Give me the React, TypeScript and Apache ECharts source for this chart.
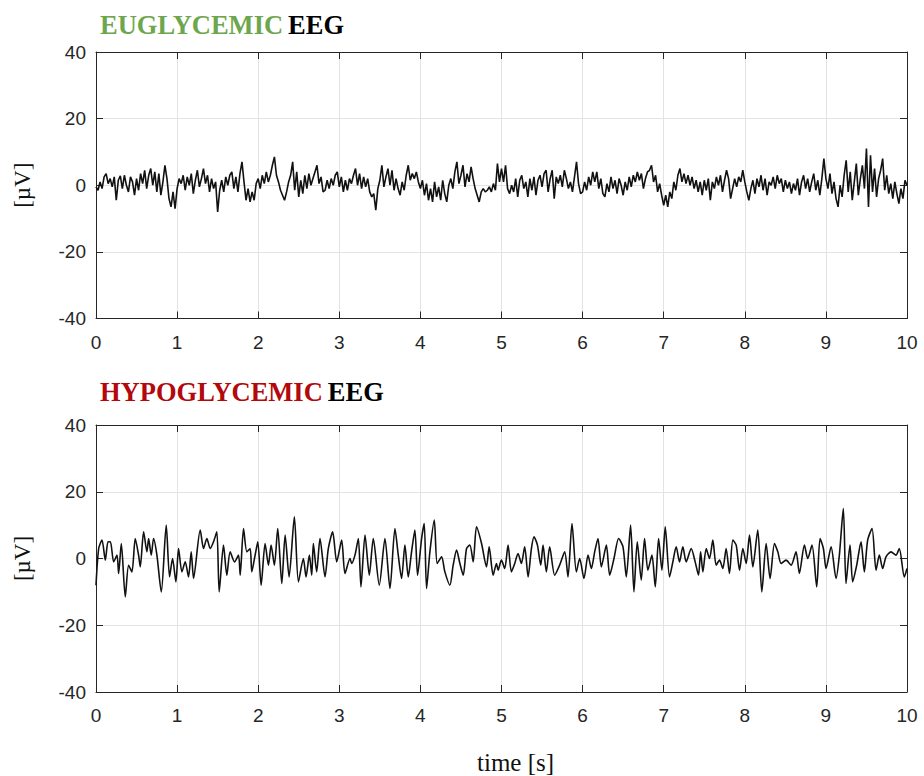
import React, { useEffect, useRef } from "react";
import * as echarts from "echarts";

// ---- data ----
const timeTicks = [0, 1, 2, 3, 4, 5, 6, 7, 8, 9, 10];
const uvTicks = [-40, -20, 0, 20, 40];

// Euglycemic EEG, one reading every 0.025 s from 0 s to 10 s (µV)
const euglycemicStep = 0.025;
const euglycemicUv = [
  -0.5, -1.5, 1.0, -1.0, 2.5, 3.5, 0.5, 2.0, -0.5, 2.5, -4.5, 1.5, 2.8, -1.0, 3.0, 0.0, -2.0, 2.5, 1.0, -3.0, 2.0, -1.5, 3.5, 0.5, 4.5, -1.0, 3.0, 5.0, 0.0, 4.0, -2.0, 3.5, -3.0, 1.0, 6.0, 2.0, -4.0, -6.5, -2.0, -7.0,
  -1.0, 2.0, 0.5, 3.0, -1.5, 2.5, 0.0, 3.5, -2.5, 1.5, 4.5, -0.5, 2.0, 5.0, 0.5, 3.0, -2.0, 2.0, -1.0, 1.0, -8.0, -1.5, 1.5, -2.0, 2.5, 0.0, 3.0, 4.0, -1.0, 2.5, -2.0, 3.5, 7.0, 1.0, -4.5, -1.0, -5.0, -2.0, -4.5, 0.5,
  2.0, -1.0, 3.0, 0.5, 4.0, 1.0, 3.0, 6.0, 8.5, 3.0, 1.0, -1.5, -3.0, -4.5, -2.0, 1.0, 3.0, 7.0, -1.5, 4.0, -3.5, 1.5, -2.5, 3.0, -1.0, 3.5, 0.0, 2.0, 4.0, 6.0, 0.5, 2.5, -2.0, -1.5, 1.5, -1.0, 2.0, 0.0, 3.0, 4.0,
  -0.5, 2.5, -2.0, 1.5, -1.5, 2.0, 0.5, 3.0, 5.0, 0.0, 3.5, -1.0, 2.5, -0.5, 2.0, -2.0, -3.5, -2.5, -7.5, -1.0, 1.5, 6.0, -0.5, 2.5, 5.0, 0.0, 4.5, -1.5, 2.0, -1.0, -3.0, 1.0, -1.5, 3.0, 6.0, 1.5, 3.5, 2.0, 4.0, 1.0,
  -1.0, 1.5, -3.0, 0.5, -4.5, -1.0, -5.0, 1.0, -3.5, -0.5, -4.5, 1.5, -2.5, -5.0, 0.0, 2.0, -1.0, 4.0, 7.0, 0.5, 3.0, 6.0, -0.5, 3.5, 1.0, 5.5, 2.0, -1.0, -3.0, -5.0, -2.0, -1.0, -2.0, -1.5, -0.5, -2.0, 0.5, -1.5, 6.5, 1.0,
  5.0, 1.0, 6.0, -1.0, -2.5, 0.0, -2.0, 2.0, -3.5, 1.5, 3.0, -1.0, 1.0, -3.5, 2.0, -1.5, 2.5, -3.0, 1.5, 3.0, -0.5, 3.5, 4.5, -2.0, 2.0, 4.5, -4.0, 2.5, 0.5, 3.0, -0.5, 4.5, 2.0, -1.0, 1.0, -2.0, 2.5, 7.0, 0.5, -2.5,
  -2.0, 1.0, -1.5, 2.5, 0.0, 4.0, 1.0, 4.0, -1.0, 2.0, -2.5, -3.5, 0.5, -2.0, 2.5, -1.0, 1.5, -2.5, 2.0, 0.0, -3.0, 1.0, -1.5, 2.5, -0.5, 3.0, 1.0, 4.0, 1.5, 3.5, -1.0, 2.0, 4.0, 4.5, 6.0, 1.0, 3.0, -2.0, 0.5, -3.0,
  -6.0, -3.0, -6.5, -2.0, -4.0, 1.0, -1.5, 3.0, 5.0, 1.0, 3.5, 0.5, 3.0, 0.0, 2.5, -1.0, 1.5, -2.0, 1.0, -3.0, 1.5, -1.5, 2.0, -4.5, 1.0, -1.0, 2.5, 0.0, 3.0, -2.0, 1.5, 4.5, 2.0, -4.0, -1.0, 2.0, -0.5, 2.5, 1.0, 4.5,
  1.0, -2.0, -4.5, -1.0, 1.5, -2.5, 2.0, -0.5, 3.0, -1.5, 2.0, -3.0, 1.0, 0.0, 2.5, -1.0, 3.0, 0.5, 2.0, -2.0, 1.5, -1.0, 1.0, -2.5, 0.5, -1.5, 2.0, -3.0, 1.0, 3.0, -1.0, 2.0, -2.0, 1.0, 3.5, -1.5, 1.5, -3.0, 2.0, 8.0,
  2.0, -1.0, 3.5, -2.5, 1.0, -4.0, -6.5, 0.0, -3.5, 3.0, 7.5, -2.0, 4.0, -4.5, 1.0, 6.5, -3.0, 2.0, 6.0, -1.0, 11.0, -6.5, 9.0, -2.0, 5.0, -3.5, 2.0, 4.5, 8.0, -1.5, 3.0, -2.5, 0.5, -4.0, 1.0, -2.5, -5.5, -1.0, -4.0, 1.5, 0.0,
];

// Hypoglycemic EEG, turning points (s, µV)
const hypoglycemicTime = [
  0.0, 0.033, 0.074, 0.115, 0.148, 0.177, 0.218, 0.259, 0.279, 0.312, 0.361, 0.402, 0.443, 0.484, 0.525, 0.546, 0.587, 0.628, 0.649, 0.681,
  0.71, 0.751, 0.805, 0.866, 0.907, 0.944, 0.985, 1.018, 1.059, 1.1, 1.141, 1.174, 1.203, 1.285, 1.326, 1.367, 1.408, 1.449, 1.49, 1.519,
  1.572, 1.613, 1.654, 1.708, 1.757, 1.778, 1.819, 1.86, 1.901, 1.921, 1.962, 1.995, 2.036, 2.085, 2.126, 2.159, 2.2, 2.241, 2.291, 2.332,
  2.381, 2.446, 2.496, 2.557, 2.59, 2.631, 2.66, 2.68, 2.721, 2.762, 2.824, 2.865, 2.918, 2.968, 3.029, 3.07, 3.132, 3.152, 3.193, 3.235,
  3.267, 3.317, 3.37, 3.419, 3.493, 3.563, 3.625, 3.686, 3.727, 3.768, 3.809, 3.85, 3.891, 3.932, 3.965, 4.015, 4.047, 4.076, 4.117, 4.171,
  4.207, 4.261, 4.302, 4.363, 4.404, 4.446, 4.487, 4.528, 4.569, 4.61, 4.651, 4.692, 4.754, 4.815, 4.848, 4.897, 4.938, 4.958, 4.999, 5.04,
  5.081, 5.122, 5.163, 5.204, 5.245, 5.286, 5.328, 5.369, 5.401, 5.443, 5.484, 5.512, 5.553, 5.594, 5.656, 5.717, 5.779, 5.82, 5.869, 5.923,
  5.964, 6.017, 6.067, 6.108, 6.149, 6.19, 6.231, 6.293, 6.334, 6.387, 6.444, 6.498, 6.539, 6.592, 6.633, 6.674, 6.723, 6.764, 6.805, 6.855,
  6.896, 6.937, 6.978, 7.019, 7.072, 7.113, 7.154, 7.195, 7.236, 7.277, 7.339, 7.388, 7.429, 7.455, 7.483, 7.524, 7.565, 7.606, 7.647, 7.688,
  7.729, 7.77, 7.811, 7.853, 7.894, 7.935, 7.976, 8.017, 8.058, 8.099, 8.16, 8.21, 8.263, 8.312, 8.366, 8.407, 8.448, 8.509, 8.571, 8.632,
  8.673, 8.735, 8.776, 8.829, 8.887, 8.928, 8.969, 9.002, 9.064, 9.125, 9.166, 9.215, 9.248, 9.297, 9.33, 9.38, 9.433, 9.474, 9.515, 9.569,
  9.618, 9.659, 9.7, 9.741, 9.803, 9.864, 9.905, 9.967, 10.0,
];
const hypoglycemicUv = [
  -8.0, 3.0, 5.5, -0.5, 5.0, 5.0, -1.0, 1.0, -4.5, 4.5, -11.5, -2.0, -4.0, 6.0, 1.0, -2.5, 8.0, 2.0, 6.0, 1.0,
  6.0, 1.0, -10.0, 10.0, -5.5, 0.0, -7.0, 3.0, -4.0, -1.0, -5.5, 2.0, -6.0, 8.5, 3.0, 6.0, 3.0, 5.0, 8.0, -10.0,
  4.0, -5.0, 2.0, -1.0, 1.0, -5.0, 9.0, 2.0, 3.0, -4.0, 1.0, 5.0, -8.0, 4.5, -2.0, 4.0, -2.0, 9.0, -7.5, 7.0,
  -5.5, 12.5, -7.0, 0.0, -5.5, 1.0, -5.0, 4.5, -4.0, 6.0, -5.5, 3.0, 8.0, -1.0, 5.5, -4.5, 0.0, -1.5, 1.0, 6.0,
  -8.5, 7.0, -5.0, 6.0, -8.0, 6.0, -9.0, 9.0, 1.0, -6.0, 4.0, -5.5, 2.0, 8.5, -5.0, 6.0, 10.5, -9.0, 2.0, 11.5,
  -1.5, 0.5, -4.0, -8.0, -2.0, 2.5, -1.5, -5.0, 3.0, 4.0, -1.0, 9.5, 4.5, -2.5, 3.5, -5.0, -1.5, -3.5, -0.5, -3.0,
  4.0, -4.0, -1.5, 1.5, -1.5, 3.5, -5.5, 3.0, 6.5, 4.0, -2.0, 4.0, -4.0, 3.5, -5.0, -2.0, 2.0, -5.5, 10.5, -4.0,
  0.0, -6.0, 1.0, -3.0, 2.0, 6.0, -2.5, 4.0, -5.0, 0.0, 6.0, 3.5, -5.5, 10.0, -10.0, 5.0, -6.5, 6.0, -3.5, 1.0,
  -8.5, 6.0, -3.5, 9.5, -5.5, -1.0, 3.5, -1.0, 3.5, -1.0, 3.0, -1.0, -5.0, 2.0, -4.0, 3.0, 0.0, 5.5, -2.0, -0.5,
  -3.0, 3.0, -4.5, 5.5, 4.0, -3.5, 3.0, -1.5, 7.0, -2.5, 8.5, -10.0, 4.5, -6.0, 4.5, 2.0, -1.5, -0.5, -2.0, 2.0,
  -4.5, 4.0, 0.0, 4.0, -8.5, 6.0, 3.0, -3.0, 3.5, -6.0, 1.0, 15.0, -7.5, 4.0, -7.0, -2.0, 5.0, -4.0, 5.5, 9.0,
  -3.5, 1.0, -3.0, 0.5, 2.0, 1.0, 3.0, -5.5, -3.0,
];

// ---- styling ----
const FRAME = "#262626";
const GRIDLINE = "#e3e3e3";
const SANS = "'Liberation Sans', Arial, sans-serif";
const SERIF = "'Liberation Serif', 'Times New Roman', serif";

function buildAxes(gridIndex: number) {
  const base = {
    gridIndex,
    type: "value" as const,
    min: timeTicks[0],
    max: timeTicks[timeTicks.length - 1],
    interval: 1,
  };
  const xBottom = {
    ...base,
    position: "bottom",
    axisLine: { show: true, onZero: false, lineStyle: { color: FRAME, width: 1 } },
    axisTick: { show: true, inside: true, length: 7, lineStyle: { color: FRAME } },
    axisLabel: { show: true, color: FRAME, fontFamily: SANS, fontSize: 19, margin: 14 },
    splitLine: { show: true, lineStyle: { color: GRIDLINE, width: 1 } },
  };
  const xTop = {
    ...base,
    position: "top",
    axisLine: { show: true, onZero: false, lineStyle: { color: FRAME, width: 1 } },
    axisTick: { show: true, inside: true, length: 7, lineStyle: { color: FRAME } },
    axisLabel: { show: false },
    splitLine: { show: false },
  };
  const ybase = {
    gridIndex,
    type: "value" as const,
    min: uvTicks[0],
    max: uvTicks[uvTicks.length - 1],
    interval: 20,
  };
  const yLeft = {
    ...ybase,
    position: "left",
    name: "[µV]",
    nameLocation: "middle",
    nameRotate: 90,
    nameGap: 62,
    nameTextStyle: { fontFamily: SERIF, fontSize: 23, color: "#111" },
    axisLine: { show: true, onZero: false, lineStyle: { color: FRAME, width: 1 } },
    axisTick: { show: true, inside: true, length: 7, lineStyle: { color: FRAME } },
    axisLabel: { show: true, color: FRAME, fontFamily: SANS, fontSize: 19, margin: 10 },
    splitLine: { show: true, lineStyle: { color: GRIDLINE, width: 1 } },
  };
  const yRight = {
    ...ybase,
    position: "right",
    axisLine: { show: true, onZero: false, lineStyle: { color: FRAME, width: 1 } },
    axisTick: { show: true, inside: true, length: 7, lineStyle: { color: FRAME } },
    axisLabel: { show: false },
    splitLine: { show: false },
  };
  return { x: [xBottom, xTop], y: [yLeft, yRight] };
}

export default function App() {
  const ref = useRef<HTMLDivElement>(null);

  useEffect(() => {
    if (!ref.current) return;
    const chart = echarts.init(ref.current, undefined, { renderer: "svg" });

    const top = buildAxes(0);
    const bottom = buildAxes(1);

    const euData = euglycemicUv.map((v, i) => [i * euglycemicStep, v]);
    const hypoData = hypoglycemicTime.map((t, i) => [t, hypoglycemicUv[i]]);

    chart.setOption({
      animation: false,
      backgroundColor: "#ffffff",
      title: [
        {
          text: "{g|EUGLYCEMIC} {k|EEG}",
          left: 100,
          top: 11,
          padding: 0,
          textStyle: {
            rich: {
              g: { color: "#6ea64e", fontFamily: SERIF, fontWeight: "bold", fontSize: 26.5 },
              k: { color: "#000000", fontFamily: SERIF, fontWeight: "bold", fontSize: 26.5 },
            },
          },
        },
        {
          text: "{r|HYPOGLYCEMIC} {k|EEG}",
          left: 100,
          top: 378,
          padding: 0,
          textStyle: {
            rich: {
              r: { color: "#b3080c", fontFamily: SERIF, fontWeight: "bold", fontSize: 26.5 },
              k: { color: "#000000", fontFamily: SERIF, fontWeight: "bold", fontSize: 26.5 },
            },
          },
        },
      ],
      grid: [
        { left: 96, right: 17, top: 52, bottom: 457.5, containLabel: false },
        { left: 96, right: 17, top: 425, bottom: 84, containLabel: false },
      ],
      xAxis: [...top.x, ...bottom.x],
      yAxis: [...top.y, ...bottom.y],
      graphic: [
        {
          type: "text",
          left: 477,
          top: 750,
          style: {
            text: "time [s]",
            fill: "#111111",
            font: `25px ${SERIF}`,
          },
        },
      ],
      series: [
        {
          type: "line",
          xAxisIndex: 0,
          yAxisIndex: 0,
          data: euData,
          showSymbol: false,
          lineStyle: { color: "#111111", width: 1.6 },
          z: 5,
        },
        {
          type: "line",
          xAxisIndex: 2,
          yAxisIndex: 2,
          data: hypoData,
          showSymbol: false,
          smooth: 0.25,
          lineStyle: { color: "#111111", width: 1.6 },
          z: 5,
        },
      ],
    });

    return () => {
      chart.dispose();
    };
  }, []);

  return (
    <div
      ref={ref}
      style={{ position: "fixed", left: 0, top: 0, width: 924, height: 776, background: "#fff" }}
    />
  );
}
